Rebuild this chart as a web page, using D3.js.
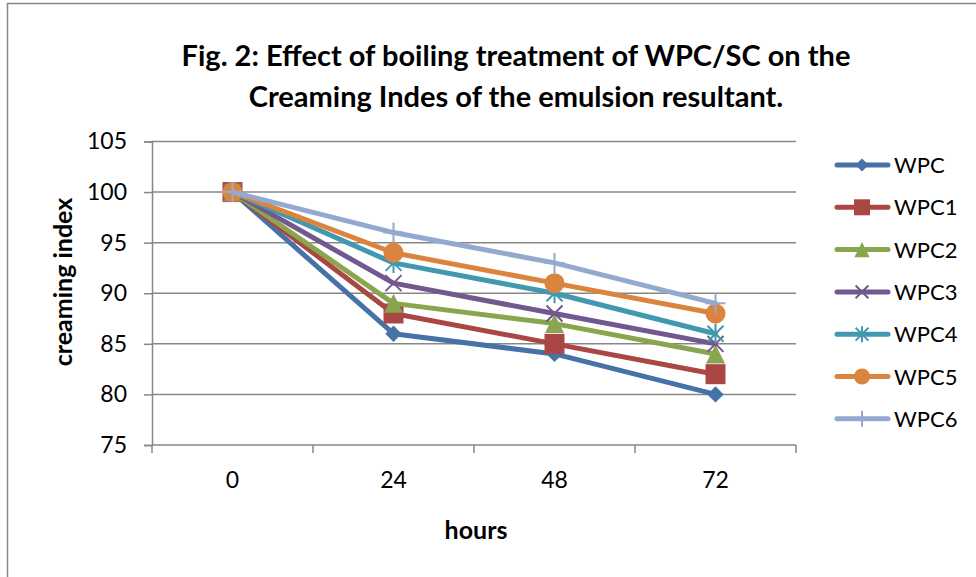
<!DOCTYPE html>
<html>
<head>
<meta charset="utf-8">
<script src="https://cdn.jsdelivr.net/npm/d3@7/dist/d3.min.js"></script>
<style>
  html, body { margin: 0; padding: 0; background: #fff; }
  svg { display: block; }
  text { font-family: Lato, "Open Sans", sans-serif; fill: #000; }
</style>
</head>
<body>
<svg id="chart" width="976" height="577"></svg>
<script>
// ---- data ----
const categories = ["0", "24", "48", "72"];
const seriesNames = ["WPC", "WPC1", "WPC2", "WPC3", "WPC4", "WPC5", "WPC6"];
const WPC  = [100, 86, 84, 80];
const WPC1 = [100, 88, 85, 82];
const WPC2 = [100, 89, 87, 84];
const WPC3 = [100, 91, 88, 85];
const WPC4 = [100, 93, 90, 86];
const WPC5 = [100, 94, 91, 88];
const WPC6 = [100, 96, 93, 89];
const yTicks = [75, 80, 85, 90, 95, 100, 105];
const titleLines = ["Fig. 2: Effect of boiling treatment of WPC/SC on the", "Creaming Indes of the emulsion resultant."];
const xTitle = "hours";
const yTitle = "creaming index";

const seriesValues = [WPC, WPC1, WPC2, WPC3, WPC4, WPC5, WPC6];
const colors = ["#4572A7", "#AA4643", "#89A54E", "#71588F", "#4198AF", "#DB843D", "#93A9CF"];
const markers = ["diamond", "square", "triangle", "x", "star", "circle", "plus"];

const svg = d3.select("#chart");
const gridColor = "#878787";

// outer border (chart area)
svg.append("path")
  .attr("d", "M7.5,577 L7.5,3.5 L976,3.5")
  .attr("fill", "none").attr("stroke", gridColor).attr("stroke-width", 1.5);

// scales
const x = d3.scaleBand().domain(categories).range([152, 796]).padding(0);
const y = d3.scaleLinear().domain([75, 105]).range([445, 141.5]);

// gridlines
svg.append("g").selectAll("line").data(yTicks.filter(t => t > 75)).join("line")
  .attr("x1", 152).attr("x2", 796)
  .attr("y1", d => y(d)).attr("y2", d => y(d))
  .attr("stroke", gridColor).attr("stroke-width", 1.5);

// y axis
const yAxis = svg.append("g").attr("transform", "translate(152,0)")
  .call(d3.axisLeft(y).tickValues(yTicks).tickSize(8).tickPadding(17));
yAxis.select(".domain").attr("stroke", gridColor).attr("stroke-width", 1.5);
yAxis.selectAll(".tick line").attr("stroke", gridColor).attr("stroke-width", 1.5);
yAxis.selectAll(".tick text").style("font-family", "Lato, sans-serif").style("font-size", "23px").attr("fill", "#000");

// x axis (category boundaries as ticks)
const xAxisG = svg.append("g").attr("transform", "translate(0,445)");
xAxisG.append("line").attr("x1", 152).attr("x2", 796).attr("y1", 0).attr("y2", 0)
  .attr("stroke", gridColor).attr("stroke-width", 1.5);
const boundaries = categories.map(c => x(c)).concat([x(categories[categories.length - 1]) + x.bandwidth()]);
xAxisG.selectAll("line.tk").data(boundaries).join("line").attr("class", "tk")
  .attr("x1", d => d).attr("x2", d => d).attr("y1", 0).attr("y2", 8)
  .attr("stroke", gridColor).attr("stroke-width", 1.5);
xAxisG.selectAll("text").data(categories).join("text")
  .attr("x", d => x(d) + x.bandwidth() / 2).attr("y", 43)
  .attr("text-anchor", "middle").style("font-size", "23px").text(d => d);

// titles
svg.append("g").selectAll("text").data(titleLines).join("text")
  .attr("x", 516).attr("y", (d, i) => 66 + i * 41)
  .attr("text-anchor", "middle").style("font-size", "29px").style("font-weight", "bold")
  .text(d => d);
svg.append("text").attr("x", 476).attr("y", 539).attr("text-anchor", "middle")
  .style("font-size", "25px").style("font-weight", "bold").text(xTitle);
svg.append("text").attr("transform", "translate(72,282) rotate(-90)").attr("text-anchor", "middle")
  .style("font-size", "25px").style("font-weight", "bold").text(yTitle);

// marker drawing
function drawMarker(g, type, color, s) {
  if (type === "diamond") {
    g.append("path").attr("d", d3.symbol(d3.symbolDiamond2 || d3.symbolDiamond, 170 * s * s)())
      .attr("fill", color);
  } else if (type === "square") {
    const h = 10 * s;
    g.append("rect").attr("x", -h).attr("y", -h).attr("width", 2 * h).attr("height", 2 * h).attr("fill", color);
  } else if (type === "triangle") {
    const h = 9.5 * s;
    g.append("path").attr("d", `M0,${-h} L${h},${h} L${-h},${h} Z`).attr("fill", color);
  } else if (type === "circle") {
    g.append("circle").attr("r", 10 * s).attr("fill", color);
  } else if (type === "x") {
    const h = 8 * s;
    g.append("path").attr("d", `M${-h},${-h} L${h},${h} M${h},${-h} L${-h},${h}`)
      .attr("stroke", color).attr("stroke-width", 2).attr("fill", "none");
  } else if (type === "star") {
    const h = 8 * s;
    g.append("path").attr("d", `M${-h},${-h} L${h},${h} M${h},${-h} L${-h},${h} M0,${-h * 1.25} L0,${h * 1.25}`)
      .attr("stroke", color).attr("stroke-width", 2).attr("fill", "none");
  } else if (type === "plus") {
    const h = 10 * s;
    g.append("path").attr("d", `M0,${-h} L0,${h} M${-h},0 L${h},0`)
      .attr("stroke", color).attr("stroke-width", 2).attr("fill", "none");
  }
}

// series
const line = d3.line().x((d, i) => x(categories[i]) + x.bandwidth() / 2).y(d => y(d));
const plot = svg.append("g");
seriesValues.forEach((vals, si) => {
  const g = plot.append("g");
  g.append("path").datum(vals).attr("d", line)
    .attr("fill", "none").attr("stroke", colors[si]).attr("stroke-width", 5)
    .attr("stroke-linejoin", "round").attr("stroke-linecap", "round");
  vals.forEach((v, i) => {
    const mg = g.append("g").attr("transform", `translate(${x(categories[i]) + x.bandwidth() / 2},${y(v)})`);
    drawMarker(mg, markers[si], colors[si], 1);
  });
});

// legend
const legend = svg.append("g");
seriesNames.forEach((name, si) => {
  const ly = 165 + si * 42.3;
  const g = legend.append("g").attr("transform", `translate(0,${ly})`);
  g.append("line").attr("x1", 837).attr("x2", 888).attr("y1", 0).attr("y2", 0)
    .attr("stroke", colors[si]).attr("stroke-width", 5).attr("stroke-linecap", "round");
  const mg = g.append("g").attr("transform", "translate(862,0)");
  drawMarker(mg, markers[si], colors[si], 0.8);
  g.append("text").attr("x", 894).attr("y", 8).style("font-size", "22px").text(name);
});
</script>
</body>
</html>
